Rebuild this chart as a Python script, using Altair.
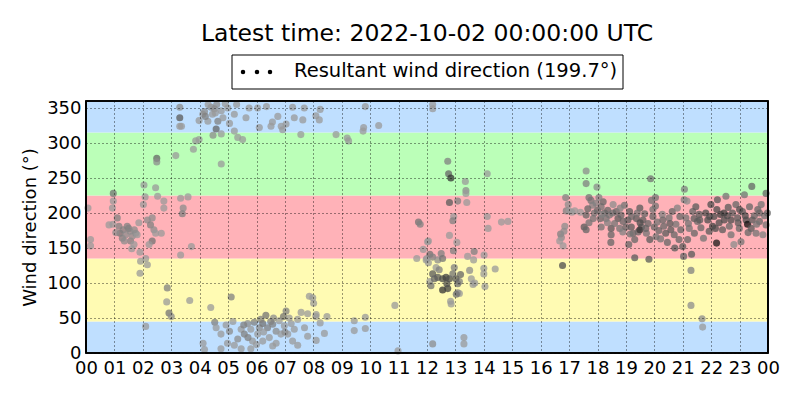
import altair as alt
import pandas as pd

# ---- data (hour of day, direction in degrees, grey level 0=black..1=white)
seg_00_04 = [
    (0.07, 207, .6), (0.16, 162, .6), (0.16, 153, .6), (0.96, 228, .45), (0.96, 217, .6), (0.93, 207, .6),
    (0.81, 183, .6), (1.10, 193, .5), (1.16, 181, .5), (1.20, 171, .45), (1.28, 164, .5), (1.31, 176, .5),
    (1.40, 169, .55), (1.45, 181, .5), (1.55, 174, .55), (1.57, 160, .5), (1.63, 167, .55), (1.69, 155, .6),
    (1.75, 171, .55), (1.80, 169, .6), (1.61, 149, .6), (1.86, 186, .6), (1.90, 144, .6), (1.92, 131, .6),
    (1.90, 114, .6), (0.95, 184, .6), (1.05, 172, .55), (1.35, 160, .55), (1.50, 178, .5), (1.70, 176, .55),
    (2.04, 240, .6), (2.08, 223, .6), (2.02, 212, .6), (2.16, 190, .55), (2.33, 193, .55), (2.27, 183, .5),
    (2.39, 176, .55), (2.45, 171, .6), (2.65, 171, .6), (2.33, 160, .45), (2.22, 155, .6), (2.10, 135, .6),
    (2.16, 126, .6), (2.45, 236, .6), (2.52, 224, .6), (2.74, 217, .6), (2.74, 207, .6), (2.49, 278, .4),
    (2.49, 273, .55), (2.86, 93, .5), (2.84, 73, .6), (2.92, 57, .45), (3.00, 52, .55), (2.10, 38, .6),
    (3.65, 75, .6), (3.33, 221, .6), (3.42, 207, .55), (3.39, 199, .5), (3.59, 223, .6), (3.71, 152, .6),
    (3.33, 140, .6), (3.16, 282, .6), (3.78, 291, .6), (3.86, 303, .6), (3.98, 305, .6), (3.30, 351, .55),
    (3.30, 336, .35), (3.30, 324, .6), (3.36, 324, .6), (3.98, 332, .6),
]
seg_04_08_top = [
    (4.11, 341, .6), (4.17, 345, .55), (4.29, 331, .6), (4.40, 351, .55), (4.45, 341, .6), (4.52, 349, .55),
    (4.64, 331, .5), (4.58, 320, .4), (4.76, 346, .6), (4.82, 336, .6), (4.47, 311, .55), (4.76, 313, .6),
    (4.76, 270, .6), (4.99, 350, .6), (5.22, 341, .6), (5.22, 317, .6), (5.34, 308, .6), (5.51, 305, .6),
    (5.63, 336, .6), (5.74, 350, .6), (6.04, 350, .6), (6.10, 322, .6), (6.56, 330, .6), (6.51, 324, .6),
    (6.75, 338, .6), (6.87, 324, .6), (6.92, 319, .6), (7.04, 327, .6), (7.27, 351, .6), (7.33, 336, .6),
    (7.63, 333, .6), (7.68, 350, .6), (7.56, 312, .6), (8.09, 339, .6), (4.30, 355, .6), (4.60, 355, .55),
    (4.90, 356, .6), (5.30, 355, .6), (5.05, 328, .6), (4.20, 338, .5), (4.55, 343, .6), (6.35, 352, .6),
]
seg_04_08_bot = [
    (4.53, 44, .5), (4.39, 65, .6), (5.11, 80, .5), (4.12, 14, .6), (4.17, 5, .6), (4.58, 36, .6),
    (4.75, 27, .6), (4.93, 40, .6), (5.05, 31, .55), (5.17, 45, .6), (5.22, 11, .6), (5.34, 20, .55),
    (5.46, 34, .6), (5.57, 27, .5), (5.69, 42, .55), (5.80, 34, .6), (5.86, 17, .6), (5.92, 44, .5),
    (6.04, 27, .6), (6.10, 36, .55), (6.22, 42, .45), (6.33, 54, .45), (6.39, 36, .5), (6.45, 22, .6),
    (6.57, 41, .5), (6.69, 31, .55), (6.80, 46, .6), (6.86, 27, .6), (6.98, 39, .6), (7.04, 60, .5),
    (7.10, 27, .6), (7.22, 42, .6), (7.33, 34, .6), (7.45, 48, .6), (7.57, 58, .6), (7.69, 36, .6),
    (7.80, 56, .6), (7.86, 81, .6), (7.98, 79, .6), (7.27, 17, .6), (7.45, 11, .6), (5.46, 6, .6),
    (4.75, 6, .6), (4.98, 14, .6), (5.80, 6, .6), (6.57, 10, .6), (6.69, 14, .6), (6.22, 17, .6),
    (7.80, 24, .6), (8.10, 55, .6), (5.70, 22, .5), (6.00, 12, .6), (6.15, 48, .5), (6.60, 50, .55),
    (6.95, 52, .45), (7.15, 50, .6), (5.55, 40, .5), (6.50, 45, .5), (7.00, 30, .55), (6.25, 30, .6),
]
seg_08_12 = [
    (8.24, 348, .6), (8.21, 333, .6), (8.80, 312, .6), (9.19, 307, .6), (9.24, 303, .6), (9.77, 322, .6),
    (9.75, 317, .6), (9.83, 352, .6), (10.30, 325, .6), (8.01, 71, .6), (8.09, 52, .6), (8.24, 43, .6),
    (8.48, 52, .6), (8.10, 18, .6), (8.39, 28, .6), (9.44, 46, .6), (9.44, 32, .6), (9.83, 51, .6),
    (9.83, 35, .6), (10.87, 68, .6), (10.98, 3, .6), (11.70, 187, .45), (11.76, 184, .5), (12.05, 160, .6),
    (11.87, 148, .6), (11.64, 135, .6), (11.99, 135, .6), (12.05, 129, .6), (12.10, 102, .6),
]
seg_12_16 = [
    (12.20, 355, .6), (12.20, 349, .6), (12.73, 274, .5), (12.76, 256, .4), (12.84, 250, .2), (13.35, 245, .6),
    (13.37, 232, .55), (13.37, 228, .6), (13.40, 215, .6), (12.79, 215, .35), (13.08, 217, .5), (12.94, 195, .6),
    (12.91, 189, .5), (14.12, 256, .6), (14.12, 195, .6), (14.15, 178, .6), (14.62, 187, .6), (14.85, 188, .6),
    (12.79, 168, .6), (13.05, 158, .6), (12.02, 159, .6), (12.93, 146, .5), (13.66, 145, .5), (13.43, 138, .6),
    (13.64, 133, .6), (14.01, 140, .6), (14.40, 120, .6), (14.00, 121, .6), (14.00, 113, .6), (14.04, 95, .6),
    (13.56, 106, .6), (13.62, 98, .6), (13.68, 100, .6), (13.50, 118, .55), (13.18, 112, .4), (13.14, 102, .5),
    (13.08, 86, .5), (13.14, 85, .6), (13.03, 84, .45), (12.83, 74, .6), (12.85, 70, .6), (12.55, 90, .2),
    (12.73, 92, .25), (12.10, 141, .45), (12.20, 137, .5), (12.38, 133, .55), (12.50, 142, .5), (12.55, 135, .45),
    (12.32, 122, .6), (12.20, 113, .35), (12.26, 106, .4), (12.38, 108, .35), (12.55, 106, .3), (12.67, 108, .25),
    (12.79, 106, .3), (12.91, 113, .45), (12.96, 122, .5), (13.02, 106, .35), (13.08, 99, .45), (12.14, 96, .45),
    (12.70, 99, .3), (12.43, 119, .5), (11.97, 133, .6), (13.30, 22, .6), (13.30, 13, .6), (12.20, 13, .55),
]
seg_16_20 = [
    (16.77, 125, .3), (16.70, 170, .5), (16.73, 165, .55), (16.67, 160, .6), (16.79, 153, .6), (16.85, 181, .55),
    (16.82, 174, .55), (16.88, 222, .5), (16.97, 212, .55), (16.90, 203, .5), (17.00, 203, .6), (17.10, 201, .6),
    (17.20, 203, .6), (17.40, 201, .6), (17.60, 260, .55), (17.60, 242, .5), (17.98, 237, .55), (17.70, 222, .45),
    (17.77, 218, .45), (17.83, 211, .5), (17.66, 206, .4), (17.60, 197, .4), (17.53, 180, .35), (17.60, 176, .4),
    (17.70, 186, .45), (17.89, 200, .45), (17.95, 214, .5), (18.00, 204, .4), (18.13, 209, .45), (18.20, 216, .4),
    (18.10, 192, .4), (18.13, 180, .45), (18.25, 200, .4), (18.30, 192, .45), (18.36, 204, .4), (18.42, 197, .45),
    (18.48, 178, .35), (18.48, 169, .4), (18.47, 158, .4), (18.54, 200, .45), (18.66, 202, .4), (18.72, 192, .35),
    (18.78, 178, .45), (18.83, 197, .4), (18.89, 173, .5), (18.95, 211, .45), (19.00, 180, .4), (19.07, 190, .35),
    (19.10, 155, .4), (19.13, 202, .35), (19.19, 180, .35), (19.25, 171, .4), (19.31, 162, .4), (19.31, 136, .35),
    (19.37, 192, .35), (19.43, 173, .4), (19.49, 207, .35), (19.55, 180, .4), (19.60, 190, .35), (19.66, 199, .4),
    (19.72, 171, .45), (19.78, 185, .4), (19.84, 162, .35), (19.81, 134, .35), (19.87, 249, .45), (19.90, 218, .45),
    (19.95, 195, .4), (20.00, 180, .4), (20.06, 166, .45), (19.49, 176, .2), (18.05, 222, .5), (18.35, 186, .5),
    (18.60, 185, .45), (18.90, 188, .4), (19.20, 195, .4), (19.50, 186, .3), (19.70, 178, .4), (19.95, 205, .45),
    (18.15, 198, .5), (18.80, 207, .5), (19.40, 200, .45), (17.85, 192, .45), (18.55, 212, .55), (19.15, 170, .45),
]
seg_20_24 = [
    (21.06, 234, .5), (21.05, 219, .5), (21.15, 217, .55), (20.04, 222, .45), (20.04, 210, .45), (20.10, 187, .45),
    (20.16, 175, .4), (20.22, 163, .45), (20.28, 198, .5), (20.33, 181, .4), (20.40, 171, .35), (20.46, 158, .4),
    (20.52, 193, .45), (20.58, 176, .35), (20.63, 202, .4), (20.70, 169, .4), (20.72, 150, .35), (20.76, 184, .45),
    (20.81, 207, .5), (20.87, 162, .4), (20.93, 176, .4), (21.00, 152, .35), (21.03, 138, .4), (21.11, 193, .45),
    (21.17, 162, .4), (21.23, 178, .45), (21.31, 141, .35), (21.29, 118, .5), (21.29, 68, .55), (21.68, 49, .55),
    (21.70, 37, .6), (21.35, 202, .4), (21.41, 171, .4), (21.46, 209, .35), (21.52, 188, .4), (21.58, 198, .35),
    (21.64, 179, .4), (21.73, 164, .45), (21.81, 200, .3), (21.88, 190, .3), (21.93, 174, .35), (21.99, 212, .3),
    (22.05, 181, .25), (22.10, 195, .3), (22.19, 157, .1), (22.22, 219, .35), (22.28, 186, .3), (22.33, 198, .25),
    (22.40, 176, .35), (22.46, 190, .3), (22.52, 224, .45), (22.57, 196, .3), (22.64, 181, .4), (22.70, 169, .45),
    (22.75, 200, .35), (22.80, 155, .55), (22.87, 212, .4), (22.93, 193, .35), (22.99, 178, .4), (23.05, 159, .45),
    (23.10, 202, .35), (23.17, 226, .45), (23.23, 190, .3), (23.28, 184, .05), (23.35, 209, .4), (23.43, 238, .4),
    (23.41, 178, .35), (23.52, 196, .4), (23.58, 171, .45), (23.64, 205, .4), (23.70, 188, .4), (23.76, 212, .45),
    (23.82, 169, .5), (23.88, 196, .45), (23.93, 228, .4), (23.93, 183, .45), (23.98, 200, .4), (20.30, 190, .4),
    (20.55, 185, .35), (20.90, 195, .4), (21.20, 185, .45), (21.60, 190, .35), (21.95, 195, .3), (22.20, 205, .3),
    (22.45, 200, .25), (22.70, 190, .3), (22.95, 186, .35), (23.20, 196, .3), (23.45, 190, .35), (23.70, 200, .4),
    (22.15, 178, .3), (22.60, 208, .35), (23.00, 205, .3), (23.30, 172, .4), (23.60, 184, .45), (21.40, 192, .35),
]

band_lo = [0, 45, 135, 225, 315]
band_hi = [45, 135, 225, 315, 360]
band_color = ["#bfdfff", "#fffbb3", "#ffb2b8", "#bbffb8", "#bfdfff"]
y_ticks = [0, 50, 100, 150, 200, 250, 300, 350]
x_ticks = list(range(25))

title_text = "Latest time: 2022-10-02 00:00:00 UTC"
legend_text = "Resultant wind direction (199.7\u00b0)"

# ---- tables
rows = []
for seg in [seg_00_04, seg_04_08_top, seg_04_08_bot, seg_08_12, seg_12_16, seg_16_20, seg_20_24]:
    for h, d, g in seg:
        v = int(round(g * 255))
        rows.append({"hour": h, "dir": d, "col": "#%02x%02x%02x" % (v, v, v)})
pts = pd.DataFrame(rows)
bands = pd.DataFrame({"lo": band_lo, "hi": band_hi, "c": band_color})

W, H = 682, 252
xs = alt.Scale(domain=[0, 24], nice=False, zero=False)
ys = alt.Scale(domain=[0, 360], nice=False)

x_axis = alt.Axis(
    values=x_ticks, title=None, grid=True,
    labelExpr="(datum.value % 24 < 10 ? '0' : '') + (datum.value % 24)",
    labelFontSize=18, labelFont="DejaVu Sans", labelColor="black", labelPadding=6,
    ticks=False, domain=False, gridColor="black", gridDash=[1, 3], gridWidth=0.8,
    gridOpacity=1, zindex=1, labelFlush=False, labelOverlap=False)
y_axis = alt.Axis(
    values=y_ticks, title="Wind direction (\u00b0)", grid=True,
    titleFontSize=18, titleFont="DejaVu Sans", titleFontWeight="normal", titleColor="black",
    titlePadding=7, labelFontSize=18, labelFont="DejaVu Sans", labelColor="black",
    labelPadding=5, ticks=False, domain=False, gridColor="black", gridDash=[1, 3],
    gridWidth=0.8, gridOpacity=1, zindex=1, labelFlush=False, labelOverlap=False)

rect = alt.Chart(bands).mark_rect().encode(
    x=alt.value(0), x2=alt.value(W),
    y=alt.Y("lo:Q", scale=ys, axis=y_axis), y2="hi:Q",
    color=alt.Color("c:N", scale=None),
)

scatter = alt.Chart(pts).mark_circle(size=50, opacity=0.75).encode(
    x=alt.X("hour:Q", scale=xs, axis=x_axis),
    y=alt.Y("dir:Q", scale=ys, axis=y_axis),
    color=alt.Color("col:N", scale=None),
)

frame = alt.Chart(bands).mark_rect(fill=None, stroke="black", strokeWidth=1.2).encode(
    x=alt.value(0), x2=alt.value(W), y=alt.value(0), y2=alt.value(H)
)

deco = pd.DataFrame({"t": [title_text]})
title = alt.Chart(deco).mark_text(fontSize=23.5, font="DejaVu Sans", color="black",
                                  baseline="middle", align="center").encode(
    x=alt.value(341), y=alt.value(-67), text="t:N")
leg_box = alt.Chart(deco).mark_rect(fill="white", stroke="black", strokeWidth=1).encode(
    x=alt.value(146), x2=alt.value(537), y=alt.value(-46), y2=alt.value(-12))
leg_text = alt.Chart(deco).mark_text(fontSize=19.5, font="DejaVu Sans", color="black",
                                     baseline="middle", align="left").encode(
    x=alt.value(208), y=alt.value(-30), text=alt.value(legend_text))
dots = [alt.Chart(deco).mark_circle(size=20, color="black", opacity=1).encode(
    x=alt.value(px), y=alt.value(-29)) for px in (157, 171, 184)]

chart = alt.layer(rect, scatter, frame, title, leg_box, leg_text, *dots).properties(
    width=W, height=H,
    autosize=alt.AutoSizeParams(type="none"),
    padding={"left": 78, "top": 93, "right": 22, "bottom": 40},
).configure_view(stroke=None).configure(font="DejaVu Sans")

chart.save("out.html", embed_options={"renderer": "svg", "actions": False})
